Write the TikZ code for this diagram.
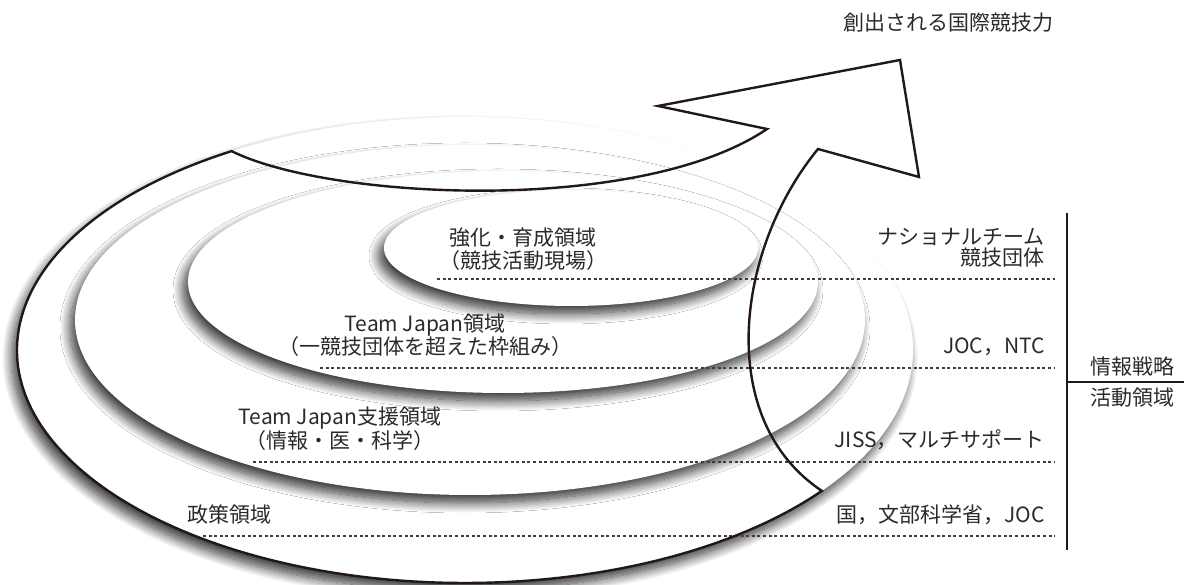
\documentclass[tikz,border=0pt]{standalone}
\usepackage{fontspec}
\setmainfont{Noto Sans CJK JP}
\usetikzlibrary{shapes.geometric,shadows.blur}
\definecolor{ink}{HTML}{231815}
\definecolor{txt}{HTML}{2A2A2A}
\tikzset{
  ell/.style={ellipse, fill=white, draw=none, inner sep=0pt, outer sep=0pt,
    blur shadow={shadow xshift=-5pt, shadow yshift=-8pt, shadow blur radius=10pt, shadow opacity=80, shadow blur steps=16}},
  lbl/.style={text=txt, font=\fontsize{21}{23}\selectfont, inner sep=0pt},
  rlbl/.style={lbl, anchor=east, align=right},
  clbl/.style={lbl, align=center},
  dotline/.style={draw=ink!85, line width=1.1pt, dash pattern=on 3pt off 2.6pt},
  arrowline/.style={draw=ink, line width=2.4pt, line join=miter, miter limit=20},
  bracket/.style={draw=ink, line width=1.8pt}
}
\begin{document}
\begin{tikzpicture}[x=1pt,y=1pt]
\useasboundingbox (0,0) rectangle (1184,585);
% ellipses (outer first)
\node[ell, minimum width=896pt, minimum height=466pt] (e4) at (465,235) {};
\node[ell, minimum width=790pt, minimum height=350pt] (e3) at (470,265) {};
\node[ell, minimum width=630pt, minimum height=222pt] (e2) at (503,303) {};
\node[ell, minimum width=374pt, minimum height=116pt] (e1) at (571,337) {};
% dotted lines
\coordinate (d1a) at (437,306); \coordinate (d1b) at (1055,306);
\coordinate (d2a) at (320,217); \coordinate (d2b) at (1055,217);
\coordinate (d3a) at (253,123); \coordinate (d3b) at (1055,123);
\coordinate (d4a) at (203,49);  \coordinate (d4b) at (1055,49);
\draw[dotline] (d1a) -- (d1b);
\draw[dotline] (d2a) -- (d2b);
\draw[dotline] (d3a) -- (d3b);
\draw[dotline] (d4a) -- (d4b);
% labels inside
\node[clbl] (t1) at (523,336) {強化・育成領域\\（競技活動現場）};
\node[clbl] (t2) at (425,250) {Team Japan領域\\（一競技団体を超えた枠組み）};
\node[clbl, font=\fontsize{21}{22}\selectfont] (t3) at (340,156) {Team Japan支援領域\\（情報・医・科学）};
\node[lbl] (t4) at (229,70) {政策領域};
% right labels
\node[rlbl, font=\fontsize{21}{21.5}\selectfont] (r1) at (1045,337.5) {ナショナルチーム\\競技団体};
\node[rlbl] (r2) at (1045,238) {JOC，NTC};
\node[rlbl] (r3) at (1045,145) {JISS，マルチサポート};
\node[rlbl] (r4) at (1045,70) {国，文部科学省，JOC};
% title
\node[lbl] (title) at (948,562) {創出される国際競技力};
% bracket
\coordinate (v1) at (1067,372); \coordinate (v2) at (1067,35);
\coordinate (hb1) at (1067,203); \coordinate (hb2) at (1184,203);
\draw[bracket] (v1) -- (v2);
\draw[bracket] (hb1) -- (hb2);
\node[lbl] (s1) at (1132,218) {情報戦略};
\node[lbl] (s2) at (1132,187) {活動領域};
% spiral arrow
\coordinate (h1) at (818,436);
\coordinate (h2) at (919,408);
\coordinate (h3) at (900,525);
\coordinate (h4) at (658,479);
\coordinate (h5) at (767,456);
\draw[arrowline] (e4.center) ++(121.4:448pt and 233pt) coordinate (a0)
  arc[start angle=121.4, end angle=322.8, x radius=448pt, y radius=233pt] coordinate (a1)
  .. controls (715,165) and (735,335) .. (h1)
  -- (h2) -- (h3) -- (h4) -- (h5)
  .. controls (640,370) and (330,385) .. (a0) -- cycle;
\end{tikzpicture}
\end{document}
